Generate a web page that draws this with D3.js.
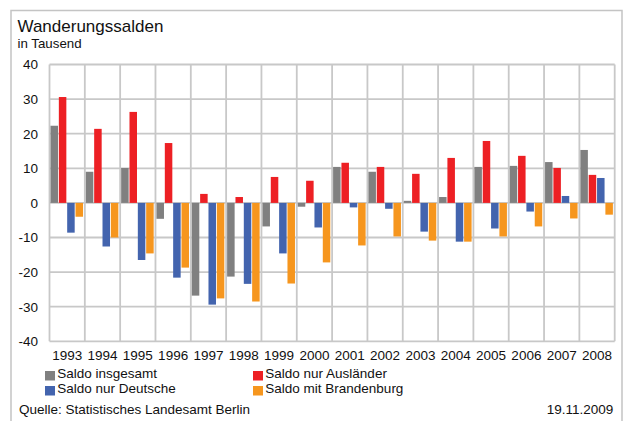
<!DOCTYPE html>
<html>
<head>
<meta charset="utf-8">
<script src="https://cdn.jsdelivr.net/npm/d3@7"></script>
<style>
  html, body { margin: 0; padding: 0; background: #fff; }
  svg { display: block; }
  text { font-family: "Liberation Sans", Arial, sans-serif; fill: #111; }
</style>
</head>
<body>
<svg id="chart" width="623" height="421"></svg>
<script>
// Wanderungssalden Berlin, in Tausend
const years = ["1993","1994","1995","1996","1997","1998","1999","2000",
               "2001","2002","2003","2004","2005","2006","2007","2008"];
const seriesNames = ["Saldo insgesamt","Saldo nur Ausländer","Saldo nur Deutsche","Saldo mit Brandenburg"];
const insgesamt   = [22.3, 9.0, 10.1, -4.6, -26.8, -21.3, -6.8, -1.1, 10.4, 9.0, 0.6, 1.7, 10.4, 10.7, 11.8, 15.3];
const auslaender  = [30.6, 21.4, 26.3, 17.3, 2.6, 1.7, 7.5, 6.4, 11.6, 10.4, 8.4, 13.0, 17.9, 13.6, 10.1, 8.1];
const deutsche    = [-8.6, -12.6, -16.5, -21.6, -29.4, -23.4, -14.6, -7.1, -1.3, -1.7, -8.3, -11.2, -7.4, -2.5, 2.0, 7.2];
const brandenburg = [-4.0, -10.0, -14.6, -18.7, -27.6, -28.5, -23.3, -17.2, -12.3, -9.7, -10.9, -11.2, -9.7, -6.8, -4.5, -3.4];
const yTicks = [-40, -30, -20, -10, 0, 10, 20, 30, 40];
const colors = ["#808080", "#ED2024", "#4364AE", "#F6961E"];

const seriesValues = [insgesamt, auslaender, deutsche, brandenburg];
const svg = d3.select("#chart");

const plot = { left: 49.5, right: 614.7, top: 64.5, bottom: 341.3 };

const x = d3.scaleBand().domain(years).range([plot.left, plot.right]).padding(0);
const xs = d3.scaleBand().domain(d3.range(4)).range([1, x.bandwidth() - 1.8]).paddingInner(0.1).paddingOuter(0);
const y = d3.scaleLinear().domain([-40, 40]).range([plot.bottom, plot.top]);

// outer frame
svg.append("path")
  .attr("d", "M11,421 V10.5 H622 V421")
  .attr("fill", "none").attr("stroke", "#c4c4c4").attr("stroke-width", 1.5);

// title
svg.append("text").attr("x", 17.5).attr("y", 32).attr("font-size", 17).text("Wanderungssalden");
svg.append("text").attr("x", 17.5).attr("y", 48.3).attr("font-size", 13.3).text("in Tausend");

// grid
const grid = svg.append("g");
grid.selectAll("line.h").data(yTicks).join("line")
  .attr("x1", plot.left).attr("x2", plot.right)
  .attr("y1", d => y(d)).attr("y2", d => y(d))
  .attr("stroke", "#c8c8c8").attr("stroke-width", 1.8);
const xEdges = years.map(d => x(d)).concat([plot.right]);
grid.selectAll("line.v").data(xEdges).join("line")
  .attr("y1", plot.top).attr("y2", plot.bottom)
  .attr("x1", d => d).attr("x2", d => d)
  .attr("stroke", "#c8c8c8").attr("stroke-width", 1.8);

// y axis labels (plain hyphen for negatives)
const yAxis = d3.axisLeft(y).tickValues(yTicks).tickFormat(d => String(d)).tickSize(0).tickPadding(0);
const gy = svg.append("g").attr("transform", "translate(38,0)").call(yAxis);
gy.select(".domain").remove();
gy.selectAll("text").attr("font-size", 13.5).attr("fill", "#111")
  .style("font-family", "'Liberation Sans', Arial, sans-serif");

// x axis labels
const xAxis = d3.axisBottom(x).tickSize(0).tickPadding(0);
const gx = svg.append("g").attr("transform", "translate(0,350)").call(xAxis);
gx.select(".domain").remove();
gx.selectAll("text").attr("font-size", 13.5).attr("fill", "#111").attr("dy", "0.75em")
  .style("font-family", "'Liberation Sans', Arial, sans-serif");

// bars
const groups = svg.append("g").selectAll("g").data(years).join("g")
  .attr("transform", d => `translate(${x(d)},0)`);
groups.selectAll("rect").data((d, i) => seriesValues.map((s, k) => ({ k, v: s[i] }))).join("rect")
  .attr("x", d => xs(d.k))
  .attr("width", xs.bandwidth())
  .attr("y", d => y(Math.max(0, d.v)))
  .attr("height", d => Math.abs(y(d.v) - y(0)))
  .attr("fill", d => colors[d.k]);

// legend
const legendPos = [
  { x: 45, y: 371 }, { x: 253, y: 371 },
  { x: 45, y: 386 }, { x: 253, y: 386 }
];
const lg = svg.append("g").selectAll("g").data(seriesNames).join("g")
  .attr("transform", (d, i) => `translate(${legendPos[i].x},${legendPos[i].y})`);
lg.append("rect").attr("width", 10).attr("height", 9.5).attr("fill", (d, i) => colors[i]);
lg.append("text").attr("x", 12.3).attr("y", 6.8).attr("font-size", 13.5).text(d => d);

// footer
svg.append("text").attr("x", 19).attr("y", 414).attr("font-size", 13.5)
  .text("Quelle: Statistisches Landesamt Berlin");
svg.append("text").attr("x", 613.3).attr("y", 413.5).attr("font-size", 13.5)
  .attr("text-anchor", "end").text("19.11.2009");
</script>
</body>
</html>
